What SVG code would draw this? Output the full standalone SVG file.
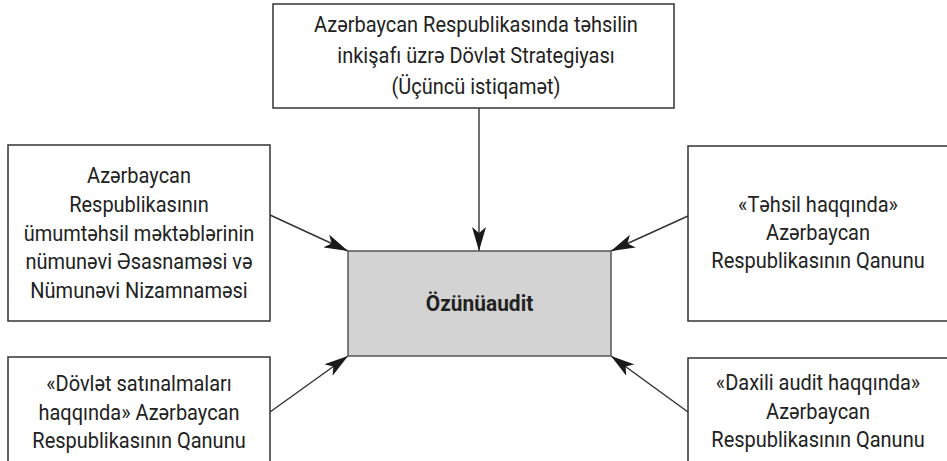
<svg xmlns="http://www.w3.org/2000/svg" width="947" height="461" viewBox="0 0 947 461">
<style>
.box{fill:#fff;stroke:#333;stroke-width:1.5}
.main{fill:#d3d3d3;stroke:#555;stroke-width:1.5}
text{font-family:Roboto,"Liberation Sans",sans-serif;font-size:21.5px;fill:#222;text-anchor:middle}
.b{font-weight:bold;font-size:22.5px}
.conn{stroke:#333;stroke-width:1.4;fill:none}
</style>
<defs>
<marker id="ah" viewBox="0 0 24 14" refX="24" refY="7" markerWidth="24" markerHeight="14" markerUnits="userSpaceOnUse" orient="auto">
<path d="M0,0 L24,7 L0,14 L6,7 Z" fill="#1a1a1a"/>
</marker>
</defs>
<rect width="947" height="461" fill="#fff"/>
<g id="connectors">
<line class="conn" x1="479" y1="108" x2="479" y2="251" marker-end="url(#ah)"/>
<line class="conn" x1="270" y1="215" x2="348" y2="251" marker-end="url(#ah)"/>
<line class="conn" x1="688" y1="216" x2="611" y2="251" marker-end="url(#ah)"/>
<line class="conn" x1="270" y1="412" x2="348" y2="356" marker-end="url(#ah)"/>
<line class="conn" x1="688" y1="412" x2="611" y2="356" marker-end="url(#ah)"/>
</g>
<g id="top">
<rect class="box" x="273" y="4" width="401" height="104"/>
<g transform="translate(476,0) scale(0.93,1)">
<text x="0" y="32">Azərbaycan Respublikasında təhsilin</text>
<text x="0" y="63">inkişafı üzrə Dövlət Strategiyası</text>
<text x="0" y="94">(Üçüncü istiqamət)</text>
</g>
</g>
<g id="left-top">
<rect class="box" x="8" y="145" width="262" height="176"/>
<g transform="translate(139,0) scale(0.93,1)">
<text x="0" y="183">Azərbaycan</text>
<text x="0" y="212">Respublikasının</text>
<text x="0" y="241">ümumtəhsil məktəblərinin</text>
<text x="0" y="269">nümunəvi Əsasnaməsi və</text>
<text x="0" y="298">Nümunəvi Nizamnaməsi</text>
</g>
</g>
<g id="right-top">
<rect class="box" x="688" y="146" width="262" height="175"/>
<g transform="translate(818,0) scale(0.93,1)">
<text x="0" y="212">«Təhsil haqqında»</text>
<text x="0" y="240">Azərbaycan</text>
<text x="0" y="268">Respublikasının Qanunu</text>
</g>
</g>
<g id="center">
<rect class="main" x="348" y="251" width="263" height="105"/>
<g transform="translate(479.5,0) scale(0.93,1)">
<text class="b" x="0" y="311">Özünüaudit</text>
</g>
</g>
<g id="left-bottom">
<rect class="box" x="8" y="357" width="262" height="110"/>
<g transform="translate(139,0) scale(0.93,1)">
<text x="0" y="391">«Dövlət satınalmaları</text>
<text x="0" y="420">haqqında» Azərbaycan</text>
<text x="0" y="448">Respublikasının Qanunu</text>
</g>
</g>
<g id="right-bottom">
<rect class="box" x="688" y="358" width="262" height="110"/>
<g transform="translate(818,0) scale(0.93,1)">
<text x="0" y="390">«Daxili audit haqqında»</text>
<text x="0" y="419">Azərbaycan</text>
<text x="0" y="447">Respublikasının Qanunu</text>
</g>
</g>
</svg>
